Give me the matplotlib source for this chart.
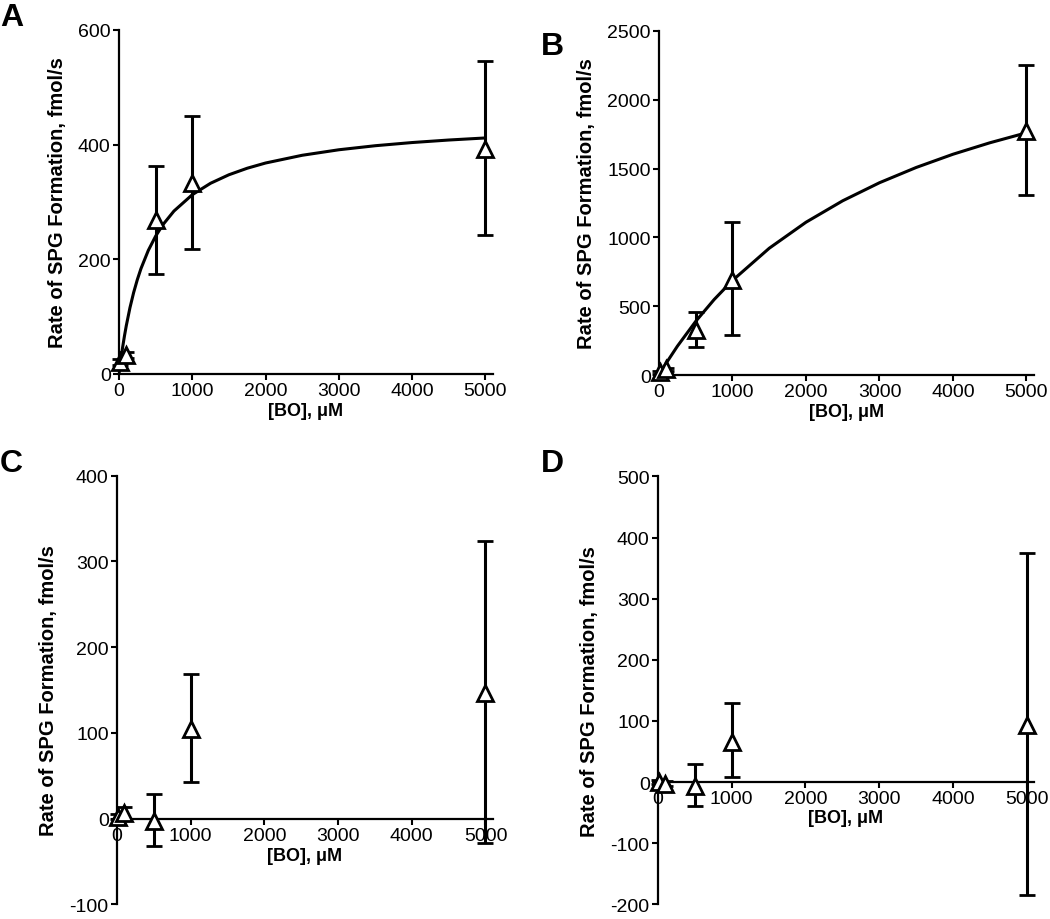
import numpy as np
import matplotlib
matplotlib.use("Agg")
import matplotlib.pyplot as plt

plt.rcParams['font.family'] = ['Liberation Sans', 'DejaVu Sans']
plt.rcParams['axes.unicode_minus'] = False

# substrate concentrations, uM
conc = [10, 100, 500, 1000, 5000]

# panel A
rate_a = [21, 33, 268, 333, 392]
err_lo_a = [5, 5, 93, 115, 150]
err_hi_a = [5, 5, 95, 117, 153]
fit_x_a = [0, 10, 25, 50, 75, 100, 150, 200, 250, 300, 400, 500, 600, 750, 1000,
           1250, 1500, 1750, 2000, 2500, 3000, 3500, 4000, 4500, 5000]
fit_y_a = [0, 10.2, 24.6, 46.6, 66.4, 84.3, 115.6, 141.9, 164.3, 183.7, 215.4,
           240.3, 260.4, 284.1, 312.6, 332.6, 347.4, 358.8, 367.9, 381.4, 391.0,
           398.1, 403.6, 408.0, 411.6]

# panel B
rate_b = [20, 40, 330, 690, 1770]
err_lo_b = [10, 10, 125, 400, 460]
err_hi_b = [10, 10, 125, 420, 480]
fit_x_b = [0, 100, 250, 500, 750, 1000, 1500, 2000, 2500, 3000, 3500, 4000, 4500, 5000]
fit_y_b = [0, 87.5, 209, 390, 548, 687, 921, 1110, 1266, 1397, 1508, 1604, 1687, 1760]

# panel C
rate_c = [2, 7, -3, 105, 146]
err_lo_c = [3, 7, 29, 62, 175]
err_hi_c = [3, 7, 32, 63, 178]

# panel D
rate_d = [0, -3, -6, 66, 93]
err_lo_d = [3, 4, 34, 58, 277]
err_hi_d = [3, 4, 35, 63, 281]

fig = plt.figure(figsize=(10.5, 9.2), dpi=100)

def style_axes(ax, ylim, yticks, zero_axis=False, xpad=2):
    ax.set_xlim(0, 5100)
    ax.set_ylim(*ylim)
    ax.set_xticks([0, 1000, 2000, 3000, 4000, 5000])
    ax.set_yticks(yticks)
    ax.spines['top'].set_visible(False)
    ax.spines['right'].set_visible(False)
    for s in ['left', 'bottom']:
        ax.spines[s].set_linewidth(1.6)
    if zero_axis:
        ax.spines['bottom'].set_position(('data', 0))
    ax.tick_params(width=1.5, length=4, labelsize=14, pad=2)
    ax.set_xlabel('[BO], μM', fontsize=13, fontweight='bold', labelpad=xpad)
    ax.set_ylabel('Rate of SPG Formation, fmol/s', fontsize=14.5, fontweight='bold',
                  labelpad=8)

def draw_points(ax, y, lo, hi):
    ax.errorbar(conc, y, yerr=[lo, hi], fmt='^', color='black', ms=12,
                mfc='white', mec='black', mew=2, elinewidth=2.2, capsize=6,
                capthick=2.2, clip_on=False, zorder=3)

ax_a = fig.add_axes([0.1133, 0.5924, 0.356, 0.374])
ax_a.plot(fit_x_a, fit_y_a, color='black', lw=2.2, zorder=2)
draw_points(ax_a, rate_a, err_lo_a, err_hi_a)
style_axes(ax_a, (0, 600), [0, 200, 400, 600])

ax_b = fig.add_axes([0.6276, 0.5913, 0.357, 0.374])
ax_b.plot(fit_x_b, fit_y_b, color='black', lw=2.2, zorder=2)
draw_points(ax_b, rate_b, err_lo_b, err_hi_b)
style_axes(ax_b, (0, 2500), [0, 500, 1000, 1500, 2000, 2500])

ax_c = fig.add_axes([0.1114, 0.016, 0.358, 0.466])
draw_points(ax_c, rate_c, err_lo_c, err_hi_c)
style_axes(ax_c, (-100, 400), [-100, 0, 100, 200, 300, 400], zero_axis=True)

ax_d = fig.add_axes([0.6267, 0.016, 0.358, 0.465])
draw_points(ax_d, rate_d, err_lo_d, err_hi_d)
style_axes(ax_d, (-200, 500), [-200, -100, 0, 100, 200, 300, 400, 500],
           zero_axis=True, xpad=1)

for lbl, x, y in [('A', 0.0, 0.997), ('B', 0.515, 0.965), ('C', 0.0, 0.512), ('D', 0.515, 0.512)]:
    fig.text(x, y, lbl, fontsize=23, fontweight='bold', va='top', ha='left')

fig.savefig('out.png', dpi=100)
